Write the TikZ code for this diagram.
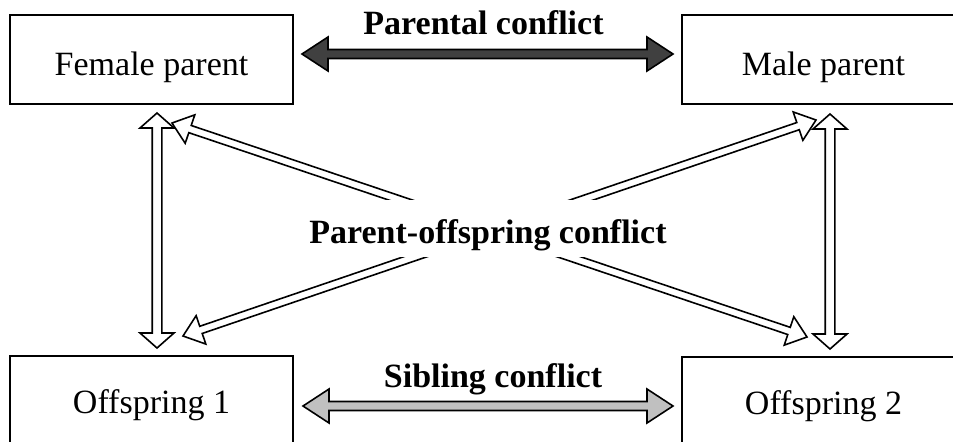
\documentclass[tikz,border=0pt]{standalone}
\usepackage{fontspec}
\setmainfont{Liberation Serif}
\usetikzlibrary{calc}
\definecolor{pcDark}{HTML}{404040}
\definecolor{pcLight}{HTML}{C0C0C0}
\newcommand\pcfont{\fontsize{17}{20}\selectfont}
% fat double-headed arrow: style, from, to, shaft half width, head half width, head length
\newcommand\blockarrow[6]{%
  \draw[#1] (#2)
    -- ($(#2)!#6!(#3)+(#2)!#5!90:(#3)-(#2)$)
    -- ($(#2)!#6!(#3)+(#2)!#4!90:(#3)-(#2)$)
    -- ($(#3)!#6!(#2)+(#3)!#4!-90:(#2)-(#3)$)
    -- ($(#3)!#6!(#2)+(#3)!#5!-90:(#2)-(#3)$)
    -- (#3)
    -- ($(#3)!#6!(#2)+(#3)!#5!90:(#2)-(#3)$)
    -- ($(#3)!#6!(#2)+(#3)!#4!90:(#2)-(#3)$)
    -- ($(#2)!#6!(#3)+(#2)!#4!-90:(#3)-(#2)$)
    -- ($(#2)!#6!(#3)+(#2)!#5!-90:(#3)-(#2)$)
    -- cycle;}
\tikzset{
  pc box/.style={draw=black, line width=1pt, minimum width=141.5pt, minimum height=44.5pt, inner sep=0pt, text height=17.5pt, text depth=2pt, font=\pcfont},
  pc box low/.style={text height=14.5pt},
  pc label/.style={font=\pcfont\bfseries, anchor=base},
  pc dark/.style={draw=black, fill=pcDark, line width=0.8pt},
  pc light/.style={draw=black, fill=pcLight, line width=0.8pt},
  pc hollow/.style={draw=black, fill=white, line width=0.8pt},
}
\begin{document}
\begin{tikzpicture}[x=0.5pt,y=-0.5pt]
  \path[use as bounding box] (0,0) rectangle (953,441);
  \clip (0,0) rectangle (953,441);
  \node[pc box] (fem) at (151.5,59.5) {Female parent};
  \node[pc box] (male) at (823.5,59.5) {Male parent};
  \node[pc box,pc box low] (off1) at (151.5,400.5) {Offspring 1};
  \node[pc box,pc box low] (off2) at (823.5,401.5) {Offspring 2};
  \coordinate (pc-l) at (302,54); \coordinate (pc-r) at (673,54);
  \coordinate (sc-l) at (303,406); \coordinate (sc-r) at (673,406);
  \coordinate (fv-t) at (157,113); \coordinate (fv-b) at (157,348);
  \coordinate (mv-t) at (830,114); \coordinate (mv-b) at (830,349);
  \coordinate (fd-t) at (172,123); \coordinate (fd-b) at (807,337);
  \coordinate (md-t) at (816,120); \coordinate (md-b) at (183,336);
  \blockarrow{pc dark}{pc-l}{pc-r}{2.25pt}{8.5pt}{13pt}
  \blockarrow{pc light}{sc-l}{sc-r}{2.25pt}{8.5pt}{13pt}
  \blockarrow{pc hollow}{fv-t}{fv-b}{2.4pt}{8.5pt}{7.5pt}
  \blockarrow{pc hollow}{mv-t}{mv-b}{2.4pt}{8.5pt}{7.5pt}
  \blockarrow{pc hollow}{fd-t}{fd-b}{1.9pt}{7.5pt}{9.5pt}
  \blockarrow{pc hollow}{md-t}{md-b}{1.9pt}{7.5pt}{9.5pt}
  \node[pc label] (pc-txt) at (483.5,34) {Parental conflict};
  \node[pc label] (sc-txt) at (493,387) {Sibling conflict};
  \node[pc label, fill=white, inner xsep=2pt, inner ysep=0pt, text height=21.5pt, text depth=7pt] (po-txt) at (488,243) {Parent-offspring conflict};
\end{tikzpicture}
\end{document}
